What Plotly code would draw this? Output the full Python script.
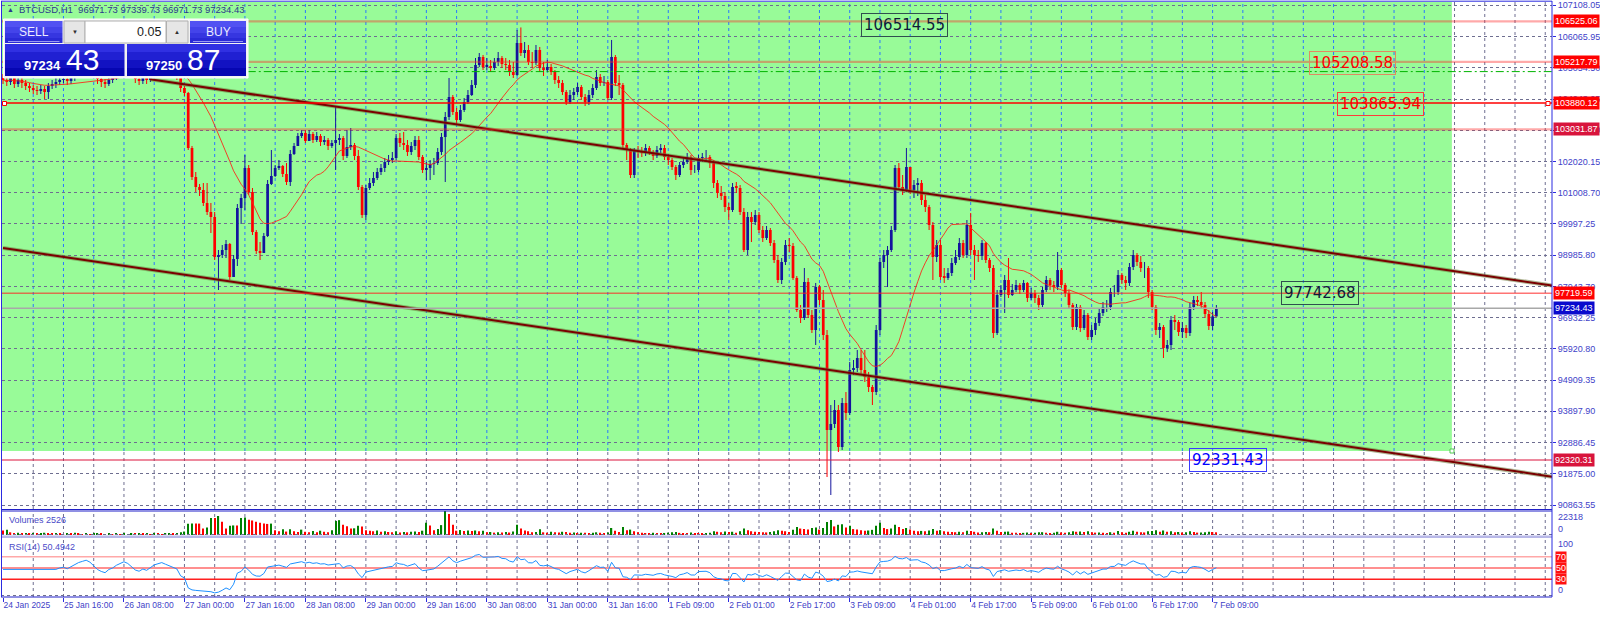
import plotly.graph_objects as go
import pandas as pd

# ---------------- DATA ----------------
first_open = 104693
closes = [
    104628, 104563, 104693, 104499, 104628, 104531, 104434, 104369, 104304, 104272, 104337, 104239, 104434, 104499, 104563, 104628,
    104660, 104596, 104693, 104758, 104887, 104952, 105017, 104952, 104822, 104660, 104563, 104499, 104628, 104693, 104822, 104920,
    105017, 104952, 104822, 104660, 104596, 104693, 104628, 104758, 104887, 104952, 105017, 104952, 104887, 104822, 104758, 104369,
    104207, 102426, 101486, 101163, 101065, 100645, 100353, 100191, 98896, 98960, 99122, 99317, 98248, 98831, 100482, 100806,
    101778, 101001, 99705, 99090, 99025, 99576, 101260, 101519, 101778, 101843, 101584, 101325, 102232, 102491, 102814, 102912,
    102653, 102879, 102685, 102814, 102620, 102685, 102491, 102588, 102685, 102750, 102167, 102458, 102523, 102167, 101163, 100256,
    101130, 101292, 101454, 101648, 101778, 101972, 102037, 102102, 102750, 102588, 102523, 102296, 102491, 102685, 102134, 101713,
    101778, 101908, 101940, 102296, 102782, 103430, 104077, 103592, 103333, 103656, 103915, 104142, 104466, 105114, 105373, 105049,
    105082, 105017, 105211, 105341, 105146, 105114, 104887, 104790, 105826, 105502, 105600, 105211, 105179, 105600, 105017, 104952,
    105049, 104887, 104628, 104531, 104239, 103915, 104142, 104239, 104401, 104077, 103915, 104142, 104369, 104725, 104531, 104563,
    104045, 105373, 104531, 104466, 102523, 102361, 101551, 102361, 102329, 102264, 102426, 102296, 102167, 102361, 102426, 102134,
    102037, 101810, 101551, 101875, 101972, 102134, 101713, 101713, 102102, 102134, 102134, 101940, 101292, 100968, 100871, 100515,
    100418, 101163, 101130, 100353, 99122, 100191, 100029, 100256, 99770, 99511, 99770, 99349, 98798, 98151, 98734, 99284,
    99252, 98215, 97179, 96920, 98086, 97017, 96531, 97924, 97503, 96369, 93293, 93487, 93940, 92742, 94167, 93843,
    95235, 95300, 95624, 95235, 95009, 94685, 94523, 96531, 98734, 98960, 99122, 99770, 101778, 101163, 101065, 101810,
    101065, 101227, 101292, 100742, 100515, 99932, 98896, 99284, 98248, 98215, 98377, 98701, 98896, 99349, 98960, 99932,
    99122, 98960, 98928, 99349, 98798, 98539, 96434, 97665, 97827, 98151, 97665, 97827, 97989, 97827, 98054, 97568,
    97730, 97568, 97341, 97827, 98151, 97989, 97924, 98474, 97989, 97730, 97341, 96629, 97276, 96596, 97017, 96304,
    96531, 96758, 97082, 97276, 97276, 97762, 97762, 98313, 98151, 98054, 98572, 98960, 98734, 98539, 98539, 97762,
    97276, 96531, 96629, 95948, 96045, 96855, 96791, 96467, 96596, 96434, 97276, 97503, 97438, 97341, 97050, 96661,
    96971.73, 97234.43,
]
highs = [
    104822, 104758, 104822, 104758, 104725, 104725, 104628, 104531, 104466, 104434, 104466, 104434, 104531, 104628, 104693, 104758,
    104822, 104758, 104855, 104887, 105017, 105114, 105179, 105114, 105017, 104887, 104725, 104660, 104725, 104822, 104952, 105049,
    105146, 105114, 105017, 104855, 104758, 104790, 104790, 104887, 105017, 105082, 105146, 105114, 105049, 104952, 104920, 104822,
    104434, 104239, 102491, 101648, 101260, 101292, 101292, 100645, 100353, 99122, 99284, 99446, 99349, 98960, 100612, 100936,
    102199, 101875, 101130, 99770, 99381, 99673, 101389, 102361, 101875, 102037, 101875, 101940, 102361, 102588, 102912, 103009,
    103009, 103009, 102944, 102944, 102879, 102814, 102750, 102685, 103754, 102879, 102814, 103009, 103073, 102588, 102361, 101227,
    101227, 101454, 101648, 101778, 101908, 102102, 102199, 102296, 102879, 102912, 102944, 102685, 102620, 102814, 102814, 102199,
    101972, 102037, 102102, 102426, 102912, 103592, 104693, 104142, 103721, 103818, 104045, 104304, 104628, 105341, 105502, 105438,
    105341, 105276, 105341, 105535, 105405, 105341, 105276, 105211, 106247, 106330, 105859, 105762, 105535, 105762, 105697, 105211,
    105276, 105146, 104952, 104758, 104628, 104304, 104304, 104369, 104531, 104466, 104175, 104304, 104499, 104952, 104822, 104758,
    104628, 105924, 105438, 104790, 104531, 102588, 102426, 102426, 102491, 102458, 102555, 102491, 102361, 102491, 102555, 102523,
    102232, 102102, 101875, 101972, 102102, 102264, 102199, 101875, 102199, 102264, 102361, 102199, 102037, 101389, 101195, 101001,
    100645, 101292, 101325, 101227, 100482, 100353, 100353, 100418, 100353, 99900, 99900, 99835, 99446, 98960, 98863, 99446,
    99511, 99349, 98280, 97341, 98539, 98215, 97179, 98054, 97989, 97827, 96531, 94102, 94264, 94102, 94329, 94523,
    95495, 95560, 95883, 95883, 95883, 95171, 94751, 96693, 98863, 99122, 99252, 99900, 101875, 101940, 101551, 102426,
    101778, 101389, 101454, 101389, 100904, 100580, 100029, 99446, 99446, 98539, 98539, 98863, 99122, 99511, 99446, 100094,
    100321, 99284, 99122, 99446, 99381, 98863, 98636, 97827, 97989, 98313, 98863, 98021, 98151, 98054, 98151, 98086,
    97892, 97827, 97665, 97924, 98280, 98215, 98119, 99057, 98539, 98054, 97827, 97406, 97373, 97341, 97179, 97082,
    96693, 96920, 97211, 97438, 97503, 97892, 97989, 98474, 98377, 98280, 98701, 99122, 99025, 98928, 98734, 98604,
    97827, 97341, 96758, 96693, 96207, 96985, 97017, 96855, 96791, 96693, 97406, 97633, 97633, 97762, 97438, 97179,
    97115, 97339.73,
]
lows = [
    104499, 104434, 104466, 104369, 104401, 104369, 104304, 104239, 104175, 104142, 104175, 104013, 104013, 104337, 104369, 104466,
    104531, 104466, 104499, 104596, 104693, 104790, 104855, 104822, 104693, 104499, 104401, 104369, 104434, 104531, 104628, 104758,
    104855, 104822, 104693, 104531, 104466, 104499, 104499, 104563, 104693, 104790, 104887, 104822, 104758, 104693, 104628, 104239,
    104110, 102361, 101389, 101001, 100871, 100547, 100256, 99673, 98798, 97827, 98863, 98863, 98151, 98280, 98604, 99964,
    100418, 100904, 99608, 98993, 98798, 99057, 99543, 101227, 101486, 101713, 101486, 101227, 101195, 102199, 102491, 102750,
    102588, 102685, 102588, 102620, 102491, 102523, 102361, 102426, 101713, 102523, 102037, 102102, 102361, 102037, 101065, 100159,
    100094, 101065, 101195, 101389, 101551, 101648, 101875, 101940, 102037, 102458, 102361, 102167, 102199, 102361, 102037, 101616,
    101389, 101389, 101551, 101875, 102199, 101325, 103333, 103495, 103203, 103268, 103592, 103851, 104110, 104369, 105049, 104952,
    104952, 104887, 104952, 105082, 105017, 104952, 104758, 104693, 104758, 105405, 105341, 105114, 105017, 105114, 104887, 104758,
    104887, 104790, 104499, 104369, 104142, 103818, 103851, 103980, 104142, 103980, 103786, 103818, 104045, 104304, 104434, 104434,
    103980, 103980, 104434, 104142, 102426, 102037, 101454, 101454, 102102, 102134, 102167, 102199, 102037, 102102, 102264, 102037,
    101875, 101713, 101389, 101486, 101778, 101908, 101551, 101616, 101648, 101972, 102037, 101778, 101130, 100806, 100742, 100353,
    100094, 100353, 100968, 100256, 99057, 98960, 99381, 99932, 99673, 99381, 99446, 99252, 98701, 98054, 98021, 98636,
    99057, 98151, 97115, 96758, 96855, 96920, 96434, 96045, 97341, 96207, 91770, 91187, 93357, 92580, 92645, 93616,
    93778, 95074, 95171, 95106, 94847, 94523, 94102, 94426, 96369, 98539, 97924, 99057, 99705, 101065, 100904, 101001,
    100936, 100806, 100871, 100580, 100353, 99770, 98151, 98734, 98151, 98054, 98151, 98280, 98636, 98798, 98863, 98863,
    98960, 98151, 98734, 98798, 98701, 98410, 96272, 96369, 97600, 97082, 97568, 97633, 97762, 97697, 97762, 97438,
    97503, 97406, 97179, 97276, 97762, 97827, 97762, 97827, 97892, 97600, 97244, 96531, 96531, 96467, 96531, 96207,
    96207, 96369, 96661, 96985, 97115, 97179, 97600, 97665, 98021, 97827, 97957, 98474, 98604, 98410, 98215, 97568,
    97179, 96369, 96272, 95624, 95819, 95883, 96531, 96337, 96272, 96272, 96337, 97179, 97309, 97244, 96920, 96531,
    96531, 96971.73,
]
volumes = [
    4200, 4800, 2500, 1800, 2000, 1500, 1900, 1400, 1600, 1300, 1700, 2100, 1500, 1200, 1400, 1000,
    900, 1300, 1100, 2200, 1400, 900, 1100, 800, 1000, 1400, 1200, 900, 1100, 900, 1000, 800,
    1200, 900, 1300, 1100, 1600, 1000, 1200, 900, 1100, 1000, 800, 1200, 1500, 1100, 1300, 2500,
    3200, 10500, 10600, 10600, 10600, 6000, 7000, 15900, 15900, 17700, 12400, 6000, 8500, 8900, 8900, 15900,
    16300, 14200, 13500, 12400, 11300, 10600, 10300, 10600, 4500, 3500, 5300, 3200, 5300, 3500, 2800, 5000,
    3000, 2500, 3800, 2600, 4000, 3000, 2500, 4500, 13100, 13800, 9600, 8200, 6000, 6200, 8500, 7800,
    4500, 4000, 3500, 4200, 3000, 3500, 2800, 2600, 3600, 2400, 2800, 2500, 3000, 3300, 2900, 4000,
    11300, 8900, 4500, 5500, 9200, 22318, 19500, 9600, 4000, 4600, 3800, 4200, 3700, 4200, 3500, 3900,
    2600, 2800, 2200, 2600, 2400, 2800, 2300, 3200, 9600, 6000, 4200, 3500, 2600, 2900, 5300, 2500,
    2200, 3000, 2600, 2400, 3000, 2800, 2000, 2300, 1800, 2200, 2000, 1700, 2100, 2500, 2000, 1800,
    2400, 6500, 4000, 2800, 7500, 4500, 5000, 3500, 2500, 2000, 1800, 1600, 2100, 1700, 1500, 1900,
    2200, 2500, 2800, 2000, 1700, 1500, 2300, 1800, 1600, 1400, 1500, 2000, 3500, 3000, 2600, 3200,
    2800, 3000, 2200, 3500, 6000, 4500, 3500, 3000, 2800, 2600, 2400, 2700, 3600, 4500, 4000, 3500,
    2800, 4800, 7500, 6000, 5500, 5000, 6500, 7000, 5000, 6500, 12000, 14000, 8000, 9500, 10000, 7000,
    8500, 5500, 5000, 4500, 4000, 4200, 4800, 8500, 11500, 6500, 5500, 6000, 9500, 7500, 5500, 6500,
    5000, 4000, 3500, 3800, 3400, 4200, 5500, 4000, 4500, 3500, 3000, 2800, 2600, 3000, 2500, 4000,
    3800, 3000, 2400, 2500, 2800, 2600, 6000, 4000, 2800, 3000, 3200, 2200, 2000, 1800, 2000, 2300,
    1800, 2000, 2500, 2600, 2200, 1800, 2000, 3000, 2400, 2200, 2600, 3500, 3000, 3200, 2800, 3400,
    2500, 2200, 2400, 2200, 1800, 2600, 2000, 3800, 2500, 2200, 3000, 4000, 3000, 2600, 2400, 3600,
    3800, 4500, 3000, 4200, 3000, 3500, 2600, 2800, 2400, 2600, 3400, 2800, 2200, 2400, 2500, 3000,
    2800, 2526,
]

x_tick_bars = [0, 16, 32, 48, 64, 80, 96, 112, 128, 144, 160, 176, 192, 208, 224, 240, 256, 272, 288, 304, 320]
x_tick_labels = ["24 Jan 2025", "25 Jan 16:00", "26 Jan 08:00", "27 Jan 00:00", "27 Jan 16:00", "28 Jan 08:00",
                 "29 Jan 00:00", "29 Jan 16:00", "30 Jan 08:00", "31 Jan 00:00", "31 Jan 16:00", "1 Feb 09:00",
                 "2 Feb 01:00", "2 Feb 17:00", "3 Feb 09:00", "4 Feb 01:00", "4 Feb 17:00", "5 Feb 09:00",
                 "6 Feb 01:00", "6 Feb 17:00", "7 Feb 09:00"]
price_grid_base = 90863.55
price_grid_step = 1011.45
y_tick_labels = ["90863.55", "91875.00", "92886.45", "93897.90", "94909.35", "95920.80", "96932.25",
                 "97943.70", "98985.80", "99997.25", "101008.70", "102020.15", "103031.60", "104043.05",
                 "105054.50", "106065.95", "107108.05"]

# horizontal line objects
hline_prices = [106525.06, 105217.79, 103880.12, 103031.87, 97719.59, 92320.31]
hline_colors = ["rgba(255,40,40,0.4)", "rgba(255,40,40,0.4)", "#FF0000",
                "rgba(255,40,40,0.4)", "rgba(255,30,30,0.62)", "#DC143C"]
hline_widths = [2.2, 2.2, 1.5, 2.2, 1.5, 1.2]
hline_label_bg = ["#FF0000", "#FF0000", "#FF0000", "#D8143C", "#FF0000", "#D8143C"]
bid_price = 97234.43
green_line_price = 104900

# channel (trend) lines: anchor bars and prices
chan_upper_bars = [38.9, 409.8]
chan_upper_prices = [104651, 97972]
chan_lower_bars = [0, 409.8]
chan_lower_prices = [99187, 91780]

# green zone (rectangle object)
zone_right_bar = 383.3
zone_low_price = 92612

# price text objects
tag_texts = ["106514.55", "105208.58", "103865.94", "97742.68", "92331.43"]
tag_bars = [238.6, 356.9, 364.4, 348.3, 324.1]
tag_prices = [106425, 105179, 103835, 97730, 92321]
tag_font_colors = ["#101A3A", "#FF0000", "#FF0000", "#101A3A", "#0000FF"]
tag_border_colors = ["#2F4F4F", "#E08A60", "#FF3A3A", "#2F4F4F", "#3A3AFF"]

vol_max = 22318
rsi_levels = [70, 50, 30]
rsi_level_colors = ["#FFA8A8", "#FF6A6A", "#FF2020"]

# ---------------- GEOMETRY ----------------
W, H = 1600, 617
def px(x):
    return x / W
def py(y):
    return 1 - y / H

BAR0, BARW = 3.0, 3.78
def bar_of(xpix):
    return (xpix - BAR0) / BARW

X_L, X_R = 2, 1552
x_range = [bar_of(X_L), bar_of(X_R)]
PPX = 32.387
y_range = [price_grid_base - 4 * PPX, price_grid_base + 503 * PPX]

n = len(closes)
bars = list(range(n))
opens = [first_open] + closes[:-1]
highs = [max(h, o, c) for h, o, c in zip(highs, opens, closes)]
lows = [min(l, o, c) for l, o, c in zip(lows, opens, closes)]

s = pd.Series(closes, dtype=float)
ma = s.rolling(20, min_periods=1).mean()
# RSI(14), Wilder smoothing seeded with the average of the first 14 changes
diffs = s.diff().fillna(0).tolist()
g = [max(v, 0) for v in diffs]
l_ = [max(-v, 0) for v in diffs]
ag = sum(g[1:15]) / 14
al = sum(l_[1:15]) / 14
rsi = []
for i in range(n):
    if i >= 15:
        ag = (ag * 13 + g[i]) / 14
        al = (al * 13 + l_[i]) / 14
    rsi.append(100 - 100 / (1 + ag / al) if al > 0 else 100)

UP = "#14149E"
DN = "#FF0000"
AXC = "#2B2BE0"
TXT = "#4141C8"
GRID = "#6E6E90"
FONT = "Liberation Sans, Arial, sans-serif"

fig = go.Figure()

# volumes
vcol = ["#008000" if i > 0 and volumes[i] > volumes[i - 1] else "#FF0000" for i in range(n)]
fig.add_trace(go.Bar(x=bars, y=volumes, marker=dict(color=vcol, line=dict(width=0)), width=0.34,
                     xaxis="x", yaxis="y2", hoverinfo="skip"))
# rsi
fig.add_trace(go.Scatter(x=bars, y=rsi, mode="lines", line=dict(color="#1E90FF", width=1),
                         xaxis="x", yaxis="y3", hoverinfo="skip"))

# candles: wicks
def wick_xy(flag):
    xs, ys = [], []
    for i in range(n):
        if (closes[i] >= opens[i]) == flag:
            xs += [i, i, None]
            ys += [lows[i], highs[i], None]
    return xs, ys
for flag, col in [(True, UP), (False, DN)]:
    wx, wy = wick_xy(flag)
    fig.add_trace(go.Scatter(x=wx, y=wy, mode="lines", line=dict(color=col, width=1),
                             xaxis="x", yaxis="y", hoverinfo="skip"))
# candle bodies
body = [c - o for o, c in zip(opens, closes)]
bcol = [UP if c >= o else DN for o, c in zip(opens, closes)]
fig.add_trace(go.Bar(x=bars, y=body, base=opens, width=0.72,
                     marker=dict(color=bcol, line=dict(width=0)),
                     xaxis="x", yaxis="y", hoverinfo="skip"))
# moving average
fig.add_trace(go.Scatter(x=bars, y=ma, mode="lines", line=dict(color="rgba(255,30,20,0.85)", width=1),
                         xaxis="x", yaxis="y", hoverinfo="skip"))
# channel lines
for bx, by in [(chan_upper_bars, chan_upper_prices), (chan_lower_bars, chan_lower_prices)]:
    fig.add_trace(go.Scatter(x=bx, y=by, mode="lines", line=dict(color="rgba(110,120,60,0.55)", width=4),
                             xaxis="x", yaxis="y", hoverinfo="skip"))
    fig.add_trace(go.Scatter(x=bx, y=by, mode="lines", line=dict(color="#7A0000", width=2),
                             xaxis="x", yaxis="y", hoverinfo="skip"))

shapes = []
# green zone
shapes.append(dict(type="rect", xref="x", yref="y", x0=x_range[0], x1=zone_right_bar,
                   y0=zone_low_price, y1=y_range[1], fillcolor="#98FB98", line=dict(width=0), layer="below"))
# vertical grid
zone_px = BAR0 + zone_right_bar * BARW
k = 8
while k <= x_range[1]:
    xp = BAR0 + k * BARW
    if xp < zone_px:
        shapes.append(dict(type="line", xref="x", yref="y", x0=k, x1=k, y0=zone_low_price, y1=y_range[1],
                           line=dict(color="#2A78FF", width=1, dash="3px,3px"), layer="below"))
        shapes.append(dict(type="line", xref="x", yref="y", x0=k, x1=k, y0=y_range[0], y1=zone_low_price,
                           line=dict(color=GRID, width=1, dash="3px,3px"), layer="below"))
    else:
        shapes.append(dict(type="line", xref="x", yref="y", x0=k, x1=k, y0=y_range[0], y1=y_range[1],
                           line=dict(color=GRID, width=1, dash="3px,3px"), layer="below"))
    for ya in ["y2", "y3"]:
        shapes.append(dict(type="line", xref="x", yref=ya + " domain", x0=k, x1=k, y0=0, y1=1,
                           line=dict(color=GRID, width=1, dash="3px,3px"), layer="below"))
    k += 8

# horizontal objects
for p, c, w in zip(hline_prices, hline_colors, hline_widths):
    shapes.append(dict(type="line", xref="x domain", yref="y", x0=0, x1=1, y0=p, y1=p,
                       line=dict(color=c, width=w), layer="above"))
shapes.append(dict(type="line", xref="x domain", yref="y", x0=0, x1=1, y0=bid_price, y1=bid_price,
                   line=dict(color="#A8A8A8", width=1.5), layer="above"))
shapes.append(dict(type="line", xref="x domain", yref="y", x0=0.045, x1=1, y0=green_line_price, y1=green_line_price,
                   line=dict(color="#00B400", width=1, dash="8px,3px,2px,3px"), layer="above"))
# rsi levels
for lv, lc in zip(rsi_levels, rsi_level_colors):
    shapes.append(dict(type="line", xref="x domain", yref="y3", x0=0, x1=1, y0=lv, y1=lv,
                       line=dict(color=lc, width=1.5), layer="below"))

def prect(x0, y0, x1, y1, fill, line=None, lw=0):
    return dict(type="rect", xref="paper", yref="paper", x0=px(x0), x1=px(x1), y0=py(y1), y1=py(y0),
                fillcolor=fill, line=dict(color=line or fill, width=lw), layer="above")
def pline(x0, y0, x1, y1, col, w=1, dash=None):
    ln = dict(color=col, width=w)
    if dash:
        ln["dash"] = dash
    return dict(type="line", xref="paper", yref="paper", x0=px(x0), x1=px(x1), y0=py(y0), y1=py(y1),
                line=ln, layer="above")

# panel separators / frame
shapes.append(pline(1, 534.5, X_R, 534.5, GRID, 1, "3px,3px"))
shapes.append(pline(1, 595.5, X_R, 595.5, GRID, 1, "3px,3px"))
shapes.append(prect(1.5, 535.5, X_R, 538, "#B8B8E8"))
shapes.append(pline(1, 509.5, X_R, 509.5, "#2020C8", 1))
shapes.append(pline(1, 511, X_R, 511, "#2020C8", 1))
shapes.append(pline(1, 597, X_R, 597, "#2020C8", 1))
shapes.append(pline(1, 1.2, X_R, 1.2, AXC, 1))
shapes.append(pline(1.5, 1, 1.5, 597, AXC, 1))
shapes.append(pline(X_R, 1, X_R, 597, AXC, 1))
# object handles
shapes.append(prect(1450, 449, 1454, 453, "#FFFFFF", "#50C850", 1))
shapes.append(prect(2.5, 101.5, 6.5, 105.5, "#FFFFFF", "#FF0000", 1))
shapes.append(prect(1546, 101.5, 1550, 105.5, "#FFFFFF", "#FF0000", 1))

# one-click trading panel
shapes.append(prect(3.5, 19, 248, 78, "#F2F2F2", "#FFFFFF", 1))
for (x0, x1) in [(5, 62.5), (190, 246)]:
    shapes.append(prect(x0, 21, x1, 27, "#5252F2"))
    shapes.append(prect(x0, 27, x1, 33, "#4444EA"))
    shapes.append(prect(x0, 33, x1, 38, "#3636E0"))
    shapes.append(prect(x0, 38, x1, 43, "#2A2AD6"))
    shapes.append(pline(x0 + 3, 41.5, x1 - 3, 41.5, "#9A9AF2", 1))
shapes.append(prect(64, 21, 85, 43, "#E6E6E6", "#B0B0B0", 1))
shapes.append(prect(85, 21, 166, 43, "#FFFFFF", "#B0B0B0", 1))
shapes.append(prect(166.5, 21, 188, 43, "#E6E6E6", "#B0B0B0", 1))
for (x0, x1) in [(5, 124.5), (127, 246)]:
    shapes.append(prect(x0, 44, x1, 52, "#3030E2"))
    shapes.append(prect(x0, 52, x1, 60, "#2020D2"))
    shapes.append(prect(x0, 60, x1, 68, "#1212C2"))
    shapes.append(prect(x0, 68, x1, 76, "#0606B2"))

ann = []
def ptext(x, y, t, size, color, xanchor="left", bold=False, family=FONT):
    txt = "<b>" + t + "</b>" if bold else t
    ann.append(dict(x=px(x), y=py(y), xref="paper", yref="paper", text=txt, showarrow=False,
                    xanchor=xanchor, yanchor="middle", font=dict(size=size, color=color, family=family)))

# right axis price labels
for p, bg in zip(hline_prices, hline_label_bg):
    ann.append(dict(x=px(1553), y=p, xref="paper", yref="y", text="%.2f" % p, showarrow=False,
                    xanchor="left", yanchor="middle", bgcolor=bg, borderpad=1,
                    font=dict(size=9, color="#FFFFFF", family=FONT)))
ann.append(dict(x=px(1553), y=bid_price, xref="paper", yref="y", text="%.2f" % bid_price, showarrow=False,
                xanchor="left", yanchor="middle", bgcolor="#0A0ACD", borderpad=1,
                font=dict(size=9, color="#FFFFFF", family=FONT)))
# rsi level labels
for lv in rsi_levels:
    ann.append(dict(x=px(1555), y=lv, xref="paper", yref="y3", text=str(lv), showarrow=False,
                    xanchor="left", yanchor="middle", bgcolor="#FF1010", borderpad=0,
                    font=dict(size=9, color="#FFFFFF", family=FONT)))
ptext(1556, 516.7, str(vol_max), 9, TXT)
ptext(1556, 529.3, "0", 9, TXT)
ptext(1556, 544, "100", 9, TXT)
ptext(1556, 590, "0", 9, TXT)

# price text objects
for t, b, p, fc, bc in zip(tag_texts, tag_bars, tag_prices, tag_font_colors, tag_border_colors):
    ann.append(dict(x=b, y=p, xref="x", yref="y", text=t, showarrow=False, xanchor="center", yanchor="middle",
                    bordercolor=bc, borderwidth=1, borderpad=2,
                    font=dict(size=15, color=fc, family="DejaVu Sans, Verdana, sans-serif")))

# indicator names
ptext(7, 519.5, "Volumes %d" % volumes[-1], 9, "#4B4BC8")
ptext(7, 547, "RSI(14) 50.4942", 9, "#4B4BC8")

# header
ptext(5, 9, "▲", 7, "#2B3A8C")
ptext(17, 9, "BTCUSD,H1  96971.73 97339.73 96971.73 97234.43", 9.5, "#2B3A8C")

# panel texts
ptext(34, 31.5, "SELL", 12, "#ECECFF", "center")
ptext(218, 31.5, "BUY", 12, "#ECECFF", "center")
ptext(74.5, 32, "▼", 6, "#303030", "center")
ptext(177.3, 32, "▲", 6, "#303030", "center")
ptext(163, 32, "0.05", 12.5, "#1A1A1A", "right")
ptext(63, 65.5, "97234", 13, "#FFFFFF", "right", bold=True)
ptext(64, 60, "43", 30, "#FFFFFF", "left")
ptext(184, 65.5, "97250", 13, "#FFFFFF", "right", bold=True)
ptext(185, 60, "87", 30, "#FFFFFF", "left")

fig.update_layout(
    width=W, height=H, autosize=False,
    margin=dict(l=0, r=0, t=0, b=0, pad=0),
    paper_bgcolor="#FFFFFF", plot_bgcolor="rgba(0,0,0,0)",
    showlegend=False, hovermode=False, barmode="overlay",
    shapes=shapes, annotations=ann,
    font=dict(family=FONT),
    xaxis=dict(domain=[px(X_L), px(X_R)], range=x_range, anchor="y3", showgrid=False, zeroline=False,
               tickmode="array", tickvals=x_tick_bars, ticktext=x_tick_labels, ticks="outside", ticklen=4,
               tickcolor=AXC, tickfont=dict(size=8.5, color=TXT, family=FONT),
               ticklabelposition="outside right", showline=False, automargin=False, fixedrange=True),
    yaxis=dict(domain=[py(509), py(2)], range=y_range, anchor="x", side="right", showgrid=True,
               gridcolor=GRID, griddash="3px,3px", gridwidth=1, zeroline=False,
               tickmode="array", tickvals=[price_grid_base + k * price_grid_step for k in range(17)],
               ticktext=y_tick_labels, ticks="outside", ticklen=3, tickcolor=AXC,
               tickfont=dict(size=9, color=TXT, family=FONT), showline=False, automargin=False),
    yaxis2=dict(domain=[py(535), py(511)], range=[0, vol_max], anchor="x", side="right", showgrid=False,
                zeroline=False, showticklabels=False, ticks="", showline=False),
    yaxis3=dict(domain=[py(597), py(538)], range=[-1.5, 103.5], anchor="x", side="right", showgrid=False,
                zeroline=False, showticklabels=False, ticks="", showline=False),
)

fig.write_html("out.html", config={"displayModeBar": False},
               post_script="document.body.style.margin='0px';document.body.style.overflow='hidden';")
